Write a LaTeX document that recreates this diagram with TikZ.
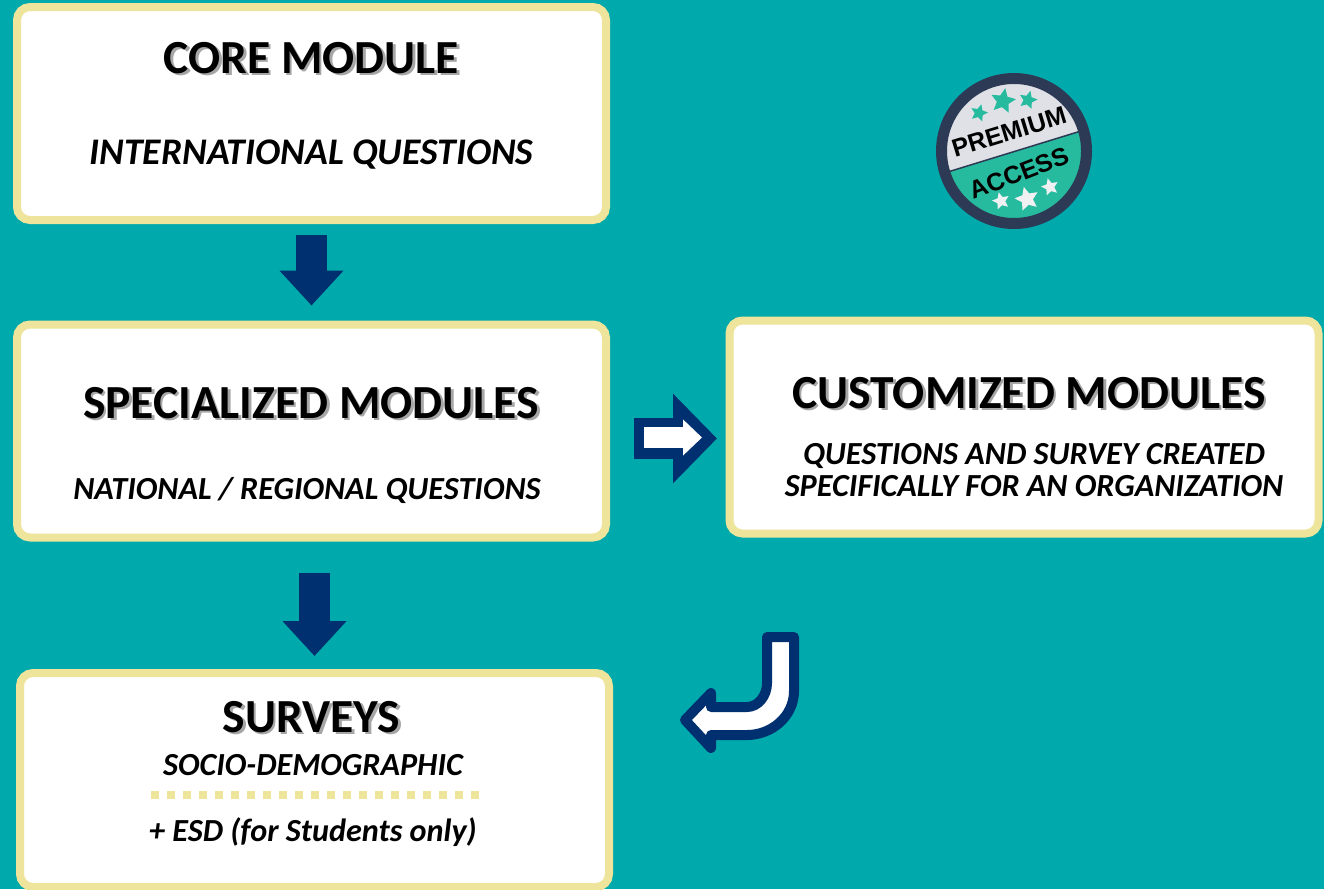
\documentclass[tikz,border=0pt]{standalone}
\usepackage{fontspec}
\setmainfont{Carlito}
\newfontfamily\badgefont{Liberation Sans}
\usetikzlibrary{arrows.meta,shapes.geometric}
\definecolor{bgteal}{HTML}{00A9AC}
\definecolor{boxyellow}{HTML}{EEE49B}
\definecolor{navyblue}{HTML}{00306F}
\definecolor{badgering}{HTML}{2D3A55}
\definecolor{badgelight}{HTML}{DFE1E6}
\definecolor{badgegreen}{HTML}{26BB9E}
\newcommand{\shadowed}[1]{\makebox[0pt][l]{\hspace{2.5pt}\raisebox{-2.5pt}{\textcolor{black!35}{#1}}}#1}
\tikzset{
	modbox/.style={draw=boxyellow, line width=8pt, fill=white, rounded corners=13pt, inner sep=0pt, minimum width=589pt, minimum height=213pt},
	headtext/.style={font=\fontsize{47.5}{47.5}\selectfont\bfseries, inner sep=0pt},
	subtext/.style={font=\fontsize{32.2}{32.2}\selectfont\bfseries\itshape, inner sep=0pt},
	downarrow/.style={navyblue, line width=31pt, -{Triangle[width=62pt,length=35pt]}},
	badgestar/.style={star, star points=5, star point ratio=2.1, inner sep=0pt},
	badgetext/.style={font=\fontsize{25}{25}\selectfont\badgefont\bfseries, inner sep=0pt}
}
\begin{document}
\begin{tikzpicture}[x=1pt, y=-1pt]
	\useasboundingbox (0,0) rectangle (1324,889);
	\fill[bgteal] (0,0) rectangle (1324,889);
	%boxes
	\node[modbox] (core) at (311.5,113.5) {};
	\node[modbox] (spec) at (311.5,431) {};
	\node[modbox] (custom) at (1024,427) {};
	\node[modbox, minimum height=214pt] (surv) at (314.5,780) {};
	%texts
	\node[headtext] (coretitle) at (311.5,59) {\shadowed{CORE MODULE}};
	\node[subtext, font=\fontsize{37.6}{37.6}\selectfont\bfseries\itshape] (coresub) at (311.5,155) {INTERNATIONAL QUESTIONS};
	\node[headtext] (spectitle) at (311,404) {\shadowed{SPECIALIZED MODULES}};
	\node[subtext] (specsub) at (307,490) {NATIONAL / REGIONAL QUESTIONS};
	\node[headtext] (customtitle) at (1029,394) {\shadowed{CUSTOMIZED MODULES}};
	\node[subtext, align=center] (customsub) at (1034,470) {QUESTIONS AND SURVEY CREATED\\SPECIFICALLY FOR AN ORGANIZATION};
	\node[headtext] (survtitle) at (311.5,718) {\shadowed{SURVEYS}};
	\node[subtext] (survsub) at (313,765) {SOCIO-DEMOGRAPHIC};
	\node[subtext] (survesd) at (313,832) {+ ESD (for Students only)};
	\draw[boxyellow, line width=8pt, dash pattern=on 8pt off 8pt] (151,795) -- (481,795);
	%arrows
	\draw[downarrow, shorten <=11pt, shorten >=15pt] (core.south) -- (spec.north);
	\draw[downarrow, shorten <=31pt, shorten >=13pt] (surv.north |- spec.south) -- (surv.north);
	\draw[navyblue, line width=41pt, -{Triangle[width=87pt,length=44pt]}] (634,438.5) -- (717,438.5);
	\draw[white, line width=21pt, -{Triangle[width=35pt,length=19pt]}] (644,437.5) -- (702,437.5);
	\draw[navyblue, fill=white, line width=10pt, line join=round] (767,637) -- (794,637) -- (794,691) .. controls (794,716) and (772,735) .. (747,735) -- (711,735) -- (711,748) -- (685,720) -- (711,693) -- (711,707) -- (747,707) .. controls (758,707) and (767,696) .. (767,683) -- cycle;
	%badge
	\coordinate (badge) at (1014,151);
	\fill[badgelight] (badge) circle (70);
	\begin{scope}
		\clip (badge) circle (70);
		\fill[badgegreen] (936,175.6) -- (1092,127.6) -- (1092,240) -- (936,240) -- cycle;
		\draw[badgering, line width=1.5pt] (936,175.6) -- (1092,127.6);
	\end{scope}
	\draw[badgering, line width=11pt] (badge) circle (72.5);
	\node[badgetext, rotate=17] (premium) at (1009,132) {PREMIUM};
	\node[badgetext, rotate=21] (access) at (1019,173) {ACCESS};
	\node[badgestar, fill=badgegreen, minimum size=18pt, rotate=-15] (startop1) at (979,113) {};
	\node[badgestar, fill=badgegreen, minimum size=26pt, rotate=-10] (startop2) at (1003,101) {};
	\node[badgestar, fill=badgegreen, minimum size=19pt, rotate=-15] (startop3) at (1028,100) {};
	\node[badgestar, fill=white!50!badgelight, minimum size=18pt, rotate=15] (starlow1) at (1001,201) {};
	\node[badgestar, fill=white!50!badgelight, minimum size=25pt, rotate=15] (starlow2) at (1027,199) {};
	\node[badgestar, fill=white!50!badgelight, minimum size=18pt, rotate=15] (starlow3) at (1050,187) {};
\end{tikzpicture}
\end{document}
